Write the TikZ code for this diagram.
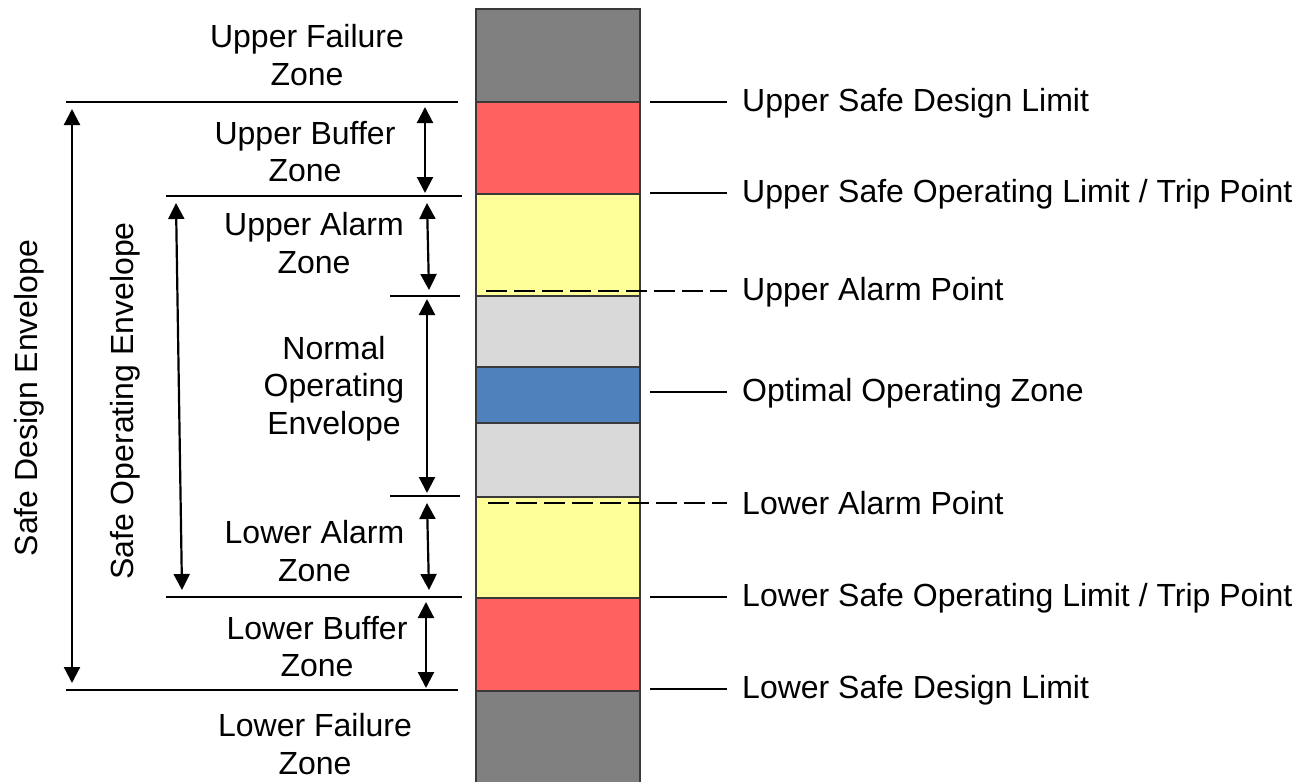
\documentclass[tikz,border=0pt]{standalone}
\usepackage{fontspec}
\setmainfont{Liberation Sans}
\usetikzlibrary{arrows.meta}
\definecolor{failgray}{HTML}{808080}
\definecolor{bufred}{HTML}{FF6161}
\definecolor{alarmyel}{HTML}{FFFF99}
\definecolor{normgray}{HTML}{D9D9D9}
\definecolor{optblue}{HTML}{4F81BD}
\definecolor{edge}{HTML}{3A3A3A}
\tikzset{
  zone/.style={draw=edge, line width=1.4pt, minimum width=164pt, inner sep=0pt, outer sep=0pt},
  lbl/.style={font=\fontsize{32}{37.5}\selectfont, align=center, inner sep=0pt},
  rlbl/.style={font=\fontsize{32}{37.5}\selectfont, anchor=west, inner xsep=15pt, inner ysep=0pt},
  rule/.style={line width=2.2pt},
  dashrule/.style={line width=2.2pt, dash pattern=on 21pt off 7pt},
  dimarrow/.style={line width=2.2pt, {Triangle[width=16pt,length=16pt]}-{Triangle[width=16pt,length=16pt]}}
}
\begin{document}
\begin{tikzpicture}[x=1pt,y=-1pt]
\useasboundingbox (0,0) rectangle (1299,782);
% column zones
\node[zone, fill=failgray, minimum height=93pt] (uf) at (558,55.5) {};
\node[zone, fill=bufred, minimum height=92pt] (ub) at (558,148) {};
\node[zone, fill=alarmyel, minimum height=102pt] (ua) at (558,245) {};
\node[zone, fill=normgray, minimum height=71pt] (ng1) at (558,331.5) {};
\node[zone, fill=optblue, minimum height=56pt] (opt) at (558,395) {};
\node[zone, fill=normgray, minimum height=74pt] (ng2) at (558,460) {};
\node[zone, fill=alarmyel, minimum height=101pt] (la) at (558,547.5) {};
\node[zone, fill=bufred, minimum height=93pt] (lb) at (558,644.5) {};
\node[zone, fill=failgray, minimum height=100pt] (lf) at (558,741) {};

% left zone labels
\node[lbl] (tuf) at (307,55) {Upper Failure\\Zone};
\node[lbl] (tub) at (305,151.5) {Upper Buffer\\Zone};
\node[lbl] (tua) at (314,243) {Upper Alarm\\Zone};
\node[lbl] (tno) at (334,388.5) {Normal\\Operating\\Envelope};
\node[lbl] (tla) at (314.5,551) {Lower Alarm\\Zone};
\node[lbl] (tlb) at (317,646.5) {Lower Buffer\\Zone};
\node[lbl] (tlf) at (315,744) {Lower Failure\\Zone};
\node[lbl, rotate=90] (tsde) at (29,398) {Safe Design Envelope};
\node[lbl, rotate=90] (tsoe) at (125,401) {Safe Operating Envelope};

% left horizontal rules
\coordinate (h1a) at (66,102);  \coordinate (h1b) at (458,102);
\coordinate (h2a) at (166,196); \coordinate (h2b) at (462,196);
\coordinate (h3a) at (390,296); \coordinate (h3b) at (460,296);
\coordinate (h4a) at (390,496); \coordinate (h4b) at (460,496);
\coordinate (h5a) at (166,597); \coordinate (h5b) at (462,597);
\coordinate (h6a) at (66,690);  \coordinate (h6b) at (458,690);
\draw[rule] (h1a) -- (h1b);
\draw[rule] (h2a) -- (h2b);
\draw[rule] (h3a) -- (h3b);
\draw[rule] (h4a) -- (h4b);
\draw[rule] (h5a) -- (h5b);
\draw[rule] (h6a) -- (h6b);

% dimension arrows
\coordinate (sdeT) at (72,109);  \coordinate (sdeB) at (72,683);
\coordinate (soeT) at (176,203); \coordinate (soeB) at (182,590);
\coordinate (ubT) at (425,107);  \coordinate (ubB) at (425,193);
\coordinate (uaT) at (427,203);  \coordinate (uaB) at (429,290);
\coordinate (noT) at (427,299);  \coordinate (noB) at (427,493);
\coordinate (laT) at (427,503);  \coordinate (laB) at (429,590);
\coordinate (lbT) at (426,602);  \coordinate (lbB) at (426,688);
\draw[dimarrow] (sdeT) -- (sdeB);
\draw[dimarrow] (soeT) -- (soeB);
\draw[dimarrow] (ubT) -- (ubB);
\draw[dimarrow] (uaT) -- (uaB);
\draw[dimarrow] (noT) -- (noB);
\draw[dimarrow] (laT) -- (laB);
\draw[dimarrow] (lbT) -- (lbB);

% right labels
\node[rlbl] (usdl) at (727,103) {Upper Safe Design Limit};
\node[rlbl] (usol) at (727,194) {Upper Safe Operating Limit / Trip Point};
\node[rlbl] (uap) at (727,292) {Upper Alarm Point};
\node[rlbl] (ooz) at (727,393) {Optimal Operating Zone};
\node[rlbl] (lap) at (727,503) {Lower Alarm Point};
\node[rlbl] (lsol) at (727,598) {Lower Safe Operating Limit / Trip Point};
\node[rlbl] (lsdl) at (727,690) {Lower Safe Design Limit};

\coordinate (c1) at (650,102);
\coordinate (c2) at (650,193);
\coordinate (c3) at (486,291);
\coordinate (c4) at (650,392);
\coordinate (c5) at (488,503);
\coordinate (c6) at (650,597);
\coordinate (c7) at (650,689);
\draw[rule] (c1) -- (c1 -| usdl.west);
\draw[rule] (c2) -- (c2 -| usol.west);
\draw[dashrule] (c3) -- (c3 -| uap.west);
\draw[rule] (c4) -- (c4 -| ooz.west);
\draw[dashrule] (c5) -- (c5 -| lap.west);
\draw[rule] (c6) -- (c6 -| lsol.west);
\draw[rule] (c7) -- (c7 -| lsdl.west);
\end{tikzpicture}
\end{document}
